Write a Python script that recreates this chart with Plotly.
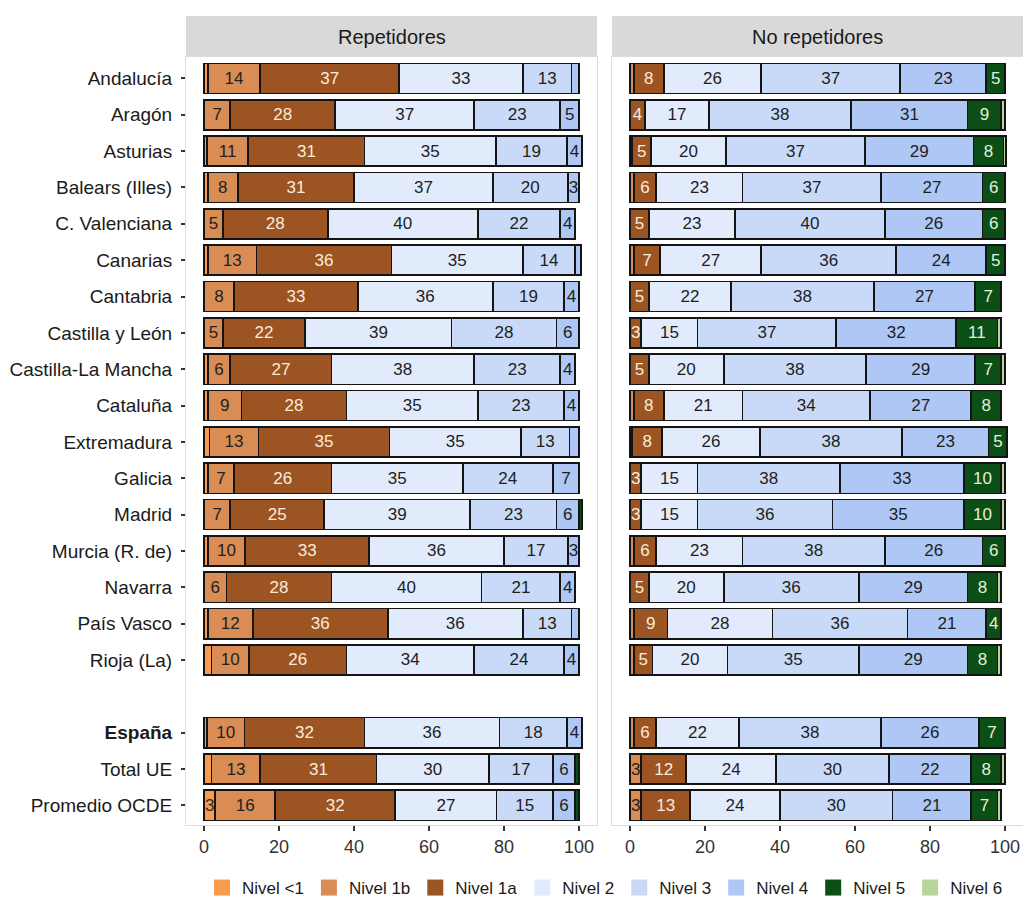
import plotly.graph_objects as go

# ---------------- data ----------------
regions = ["Andalucía", "Aragón", "Asturias", "Balears (Illes)", "C. Valenciana",
           "Canarias", "Cantabria", "Castilla y León", "Castilla-La Mancha", "Cataluña",
           "Extremadura", "Galicia", "Madrid", "Murcia (R. de)", "Navarra",
           "País Vasco", "Rioja (La)", "España", "Total UE", "Promedio OCDE"]
gap_label = " "
category_order = regions[:17] + [gap_label] + regions[17:]

levels = ["Nivel <1", "Nivel 1b", "Nivel 1a", "Nivel 2", "Nivel 3", "Nivel 4", "Nivel 5", "Nivel 6"]
panel_titles = ["Repetidores", "No repetidores"]

# Repetidores (percent of students per level)
rep_lt1 = [1, 0, 0.8, 1, 0, 1, 0, 0, 1, 1, 1.5, 1, 0, 1, 0, 1, 2, 0.8, 2, 3]
rep_1b  = [14, 7, 11, 8, 5, 13, 8, 5, 6, 9, 13, 7, 7, 10, 6, 12, 10, 10, 13, 16]
rep_1a  = [37, 28, 31, 31, 28, 36, 33, 22, 27, 28, 35, 26, 25, 33, 28, 36, 26, 32, 31, 32]
rep_2   = [33, 37, 35, 37, 40, 35, 36, 39, 38, 35, 35, 35, 39, 36, 40, 36, 34, 36, 30, 27]
rep_3   = [13, 23, 19, 20, 22, 14, 19, 28, 23, 23, 13, 24, 23, 17, 21, 13, 24, 18, 17, 15]
rep_4   = [2, 5, 4, 3, 4, 1.5, 4, 6, 4, 4, 2.5, 7, 6, 3, 4, 2, 4, 4, 6, 6]
rep_5   = [0, 0, 0, 0, 0, 0, 0, 0, 0, 0, 0, 0, 0.8, 0, 0, 0, 0, 0, 1, 1]
rep_6   = [0, 0, 0, 0, 0, 0, 0, 0, 0, 0, 0, 0, 0, 0, 0, 0, 0, 0, 0, 0]

# No repetidores
norep_lt1 = [0, 0, 0, 0, 0, 0, 0, 0, 0, 0, 0, 0, 0, 0, 0, 0, 0, 0, 0, 0]
norep_1b  = [1, 0, 0.6, 1, 0, 1, 0, 0, 0, 1, 0.6, 0, 0, 1, 0, 1, 1, 1, 3, 3]
norep_1a  = [8, 4, 5, 6, 5, 7, 5, 3, 5, 8, 8, 3, 3, 6, 5, 9, 5, 6, 12, 13]
norep_2   = [26, 17, 20, 23, 23, 27, 22, 15, 20, 21, 26, 15, 15, 23, 20, 28, 20, 22, 24, 24]
norep_3   = [37, 38, 37, 37, 40, 36, 38, 37, 38, 34, 38, 38, 36, 38, 36, 36, 35, 38, 30, 30]
norep_4   = [23, 31, 29, 27, 26, 24, 27, 32, 29, 27, 23, 33, 35, 26, 29, 21, 29, 26, 22, 21]
norep_5   = [5, 9, 8, 6, 6, 5, 7, 11, 7, 8, 5, 10, 10, 6, 8, 4, 8, 7, 8, 7]
norep_6   = [0, 1, 0.6, 0, 0, 0, 0, 1, 1, 0, 0, 1, 1, 0, 1, 0, 1, 0, 1, 1]

rep_data = [rep_lt1, rep_1b, rep_1a, rep_2, rep_3, rep_4, rep_5, rep_6]
norep_data = [norep_lt1, norep_1b, norep_1a, norep_2, norep_3, norep_4, norep_5, norep_6]

# ---------------- style ----------------
FONT = "Liberation Sans, Arial, sans-serif"
colors = ["#F99B4F", "#DA8C55", "#9C5422", "#E1EBFC", "#C8DAF7", "#AEC7F4", "#0B4F17", "#B9D59B"]
label_colors = ["#2B2B2B", "#222222", "#FAEBDC", "#1E1E1E", "#1E1E1E", "#1E1E1E", "#E2F0D8", "#1E1E1E"]

W, H = 1023, 907
panels_px = [(186, 597), (612, 1023)]
panel_top_px, panel_bot_px = 57, 825
strip_top_px = 16


def px_x(v):
    return v / W


def px_y(v):
    return 1 - v / H


fig = go.Figure()

for p, data in enumerate([rep_data, norep_data]):
    xa = "x" if p == 0 else "x2"
    ya = "y" if p == 0 else "y2"
    for i, lvl in enumerate(levels):
        vals = data[i]
        fig.add_trace(go.Bar(
            y=regions, x=vals, orientation="h", name=lvl,
            marker=dict(color=colors[i], line=dict(color="#141414", width=1.6)),
            text=[f"{v:.0f}" if v >= 3 else "" for v in vals],
            textposition="inside", insidetextanchor="middle", textangle=0,
            constraintext="none",
            insidetextfont=dict(family=FONT, size=17, color=label_colors[i]),
            showlegend=False, hoverinfo="skip",
            xaxis=xa, yaxis=ya,
        ))

# legend entries (swatches without outline)
for i, lvl in enumerate(levels):
    fig.add_trace(go.Scatter(
        x=[None], y=[None], mode="markers", name=lvl,
        marker=dict(symbol="square", size=16, color=colors[i]),
        showlegend=True, xaxis="x", yaxis="y",
    ))

axis_common = dict(
    range=[-4.8, 104.8], tickvals=[0, 20, 40, 60, 80, 100],
    ticks="outside", ticklen=5, tickwidth=1.5, tickcolor="#333333",
    tickfont=dict(family=FONT, size=18, color="#333333"),
    showgrid=False, zeroline=False,
    showline=True, linecolor="#DCDCDC", linewidth=1, mirror=True,
)
fig.update_layout(
    xaxis=dict(domain=[px_x(panels_px[0][0]), px_x(panels_px[0][1])], anchor="y", **axis_common),
    xaxis2=dict(domain=[px_x(panels_px[1][0]), px_x(panels_px[1][1])], anchor="y2", **axis_common),
)

tickvals = [r for r in regions]
ticktext = [f"<b>{r}</b>" if r == "España" else r for r in regions]
yaxis_common = dict(
    type="category", categoryorder="array", categoryarray=category_order,
    range=[len(category_order) - 1 + 0.54, -0.59],
    domain=[px_y(panel_bot_px), px_y(panel_top_px)],
    showgrid=False, zeroline=False,
    showline=True, linecolor="#DCDCDC", linewidth=1, mirror=True,
)
fig.update_layout(
    yaxis=dict(anchor="x", tickvals=tickvals, ticktext=ticktext,
               ticks="outside", ticklen=4, tickwidth=1.5, tickcolor="#333333",
               ticklabelstandoff=5,
               tickfont=dict(family=FONT, size=19, color="#1A1A1A"), **yaxis_common),
    yaxis2=dict(anchor="x2", showticklabels=False, ticks="", **yaxis_common),
)

# facet strips
for p, title in enumerate(panel_titles):
    x0, x1 = panels_px[p]
    fig.add_shape(type="rect", xref="paper", yref="paper",
                  x0=px_x(x0), x1=px_x(x1), y0=px_y(panel_top_px), y1=px_y(strip_top_px),
                  fillcolor="#D9D9D9", line=dict(width=0), layer="below")
    fig.add_annotation(xref="paper", yref="paper", x=px_x((x0 + x1) / 2),
                       y=px_y((panel_top_px + strip_top_px) / 2),
                       text=title, showarrow=False, xanchor="center", yanchor="middle",
                       font=dict(family=FONT, size=20, color="#1A1A1A"))

fig.update_layout(
    width=W, height=H,
    margin=dict(l=0, r=0, t=0, b=0),
    barmode="stack", bargap=0.17,
    paper_bgcolor="white", plot_bgcolor="white",
    font=dict(family=FONT, color="#1A1A1A"),
    legend=dict(orientation="h", x=px_x(605), xanchor="center", y=px_y(888), yanchor="middle",
                font=dict(family=FONT, size=17, color="#1A1A1A"),
                itemsizing="trace", traceorder="normal", bgcolor="rgba(0,0,0,0)"),
)

fig.write_html("out.html", config={"displayModeBar": False},
               post_script="document.body.style.margin='0';")
